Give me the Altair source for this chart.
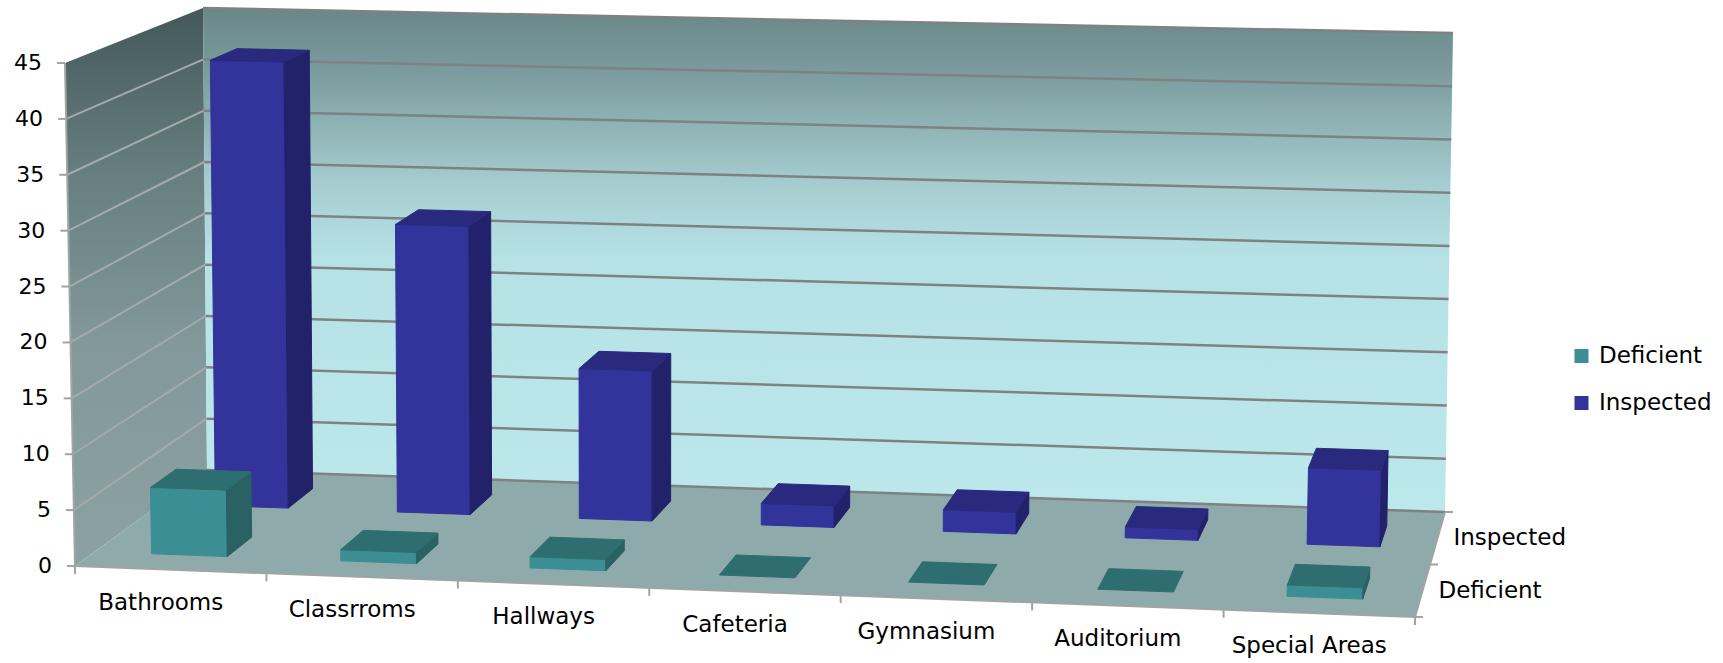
import altair as alt
import pandas as pd

# ---------------- data ----------------
categories = ["Bathrooms", "Classrroms", "Hallways", "Cafeteria", "Gymnasium", "Auditorium", "Special Areas"]
deficient = [6, 1, 1, 0, 0, 0, 1]
inspected = [42, 27, 14, 2, 2, 1, 7]
series_names = ["Deficient", "Inspected"]
y_ticks = [0, 5, 10, 15, 20, 25, 30, 35, 40, 45]
Y_MAX = 45

# ---------------- style ----------------
series_colors = ["#3B8E93", "#32339B"]
face_colors = {
    "Deficient": {"front": "#3B8E93", "top": "#2F6E70", "side": "#2A6163"},
    "Inspected": {"front": "#32339B", "top": "#29297E", "side": "#22226A"},
}
FONT = "DejaVu Sans"
W, H = 1723, 663

# screen corners of the 3-D plot box (front/back, left/right, bottom/top)
C = {
    ("f", "l", "b"): (75, 566), ("f", "r", "b"): (1415, 617),
    ("b", "l", "b"): (207, 470), ("b", "r", "b"): (1445, 512),
    ("f", "l", "t"): (65, 63), ("f", "r", "t"): (1429, 100),
    ("b", "l", "t"): (203, 8), ("b", "r", "t"): (1453, 33),
}
BAR_W = (0.3, 0.7)      # fraction of category slot
BAR_D = (0.15, 0.35)    # fraction of depth inside each series row (row depth 0.5)


def proj(u, w, t):
    out = [0.0, 0.0]
    for d, wd in (("f", 1 - w), ("b", w)):
        for s, ws in (("l", 1 - u), ("r", u)):
            for h, wh in (("b", 1 - t), ("t", t)):
                px, py = C[(d, s, h)]
                out[0] += wd * ws * wh * px
                out[1] += wd * ws * wh * py
    return out


n = len(categories)


def poly_rows(pid, pts, color=None):
    rows = []
    for o, (u, w, t) in enumerate(pts):
        x, y = proj(u, w, t)
        rows.append({"pid": pid, "o": o, "x": x, "y": y, "col": color})
    return rows


# walls
left_wall = pd.DataFrame(poly_rows("lw", [(0, 0, 0), (0, 1, 0), (0, 1, 1), (0, 0, 1)]))
back_wall = pd.DataFrame(poly_rows("bw", [(0, 1, 0), (1, 1, 0), (1, 1, 1), (0, 1, 1)]))
floor = pd.DataFrame(poly_rows("fl", [(0, 0, 0), (1, 0, 0), (1, 1, 0), (0, 1, 0)]))

# bars
bar_frames = {}
for s_idx, (sname, vals) in enumerate(zip(series_names, [deficient, inspected])):
    rows = []
    for i, v in enumerate(vals):
        u0, u1 = (i + BAR_W[0]) / n, (i + BAR_W[1]) / n
        w0, w1 = s_idx * 0.5 + BAR_D[0], s_idx * 0.5 + BAR_D[1]
        t1 = v / Y_MAX
        fc = face_colors[sname]
        if v > 0:
            rows += poly_rows(f"{sname}-{i}-front", [(u0, w0, 0), (u1, w0, 0), (u1, w0, t1), (u0, w0, t1)], fc["front"])
            rows += poly_rows(f"{sname}-{i}-side", [(u1, w0, 0), (u1, w1, 0), (u1, w1, t1), (u1, w0, t1)], fc["side"])
        rows += poly_rows(f"{sname}-{i}-top", [(u0, w0, t1), (u1, w0, t1), (u1, w1, t1), (u0, w1, t1)], fc["top"])
    bar_frames[sname] = pd.DataFrame(rows)

# grid lines
back_grid, left_grid, y_tick_rules, y_labels = [], [], [], []
for v in y_ticks:
    t = v / Y_MAX
    a, b = proj(0, 1, t), proj(1, 1, t)
    back_grid.append({"x": a[0], "y": a[1], "x2": b[0], "y2": b[1]})
    c = proj(0, 0, t)
    left_grid.append({"x": c[0], "y": c[1], "x2": a[0], "y2": a[1]})
    y_tick_rules.append({"x": c[0] - 8, "y": c[1], "x2": c[0], "y2": c[1]})
    y_labels.append({"x": c[0] - 23, "y": c[1], "text": str(v)})
back_grid = pd.DataFrame(back_grid)
left_grid = pd.DataFrame(left_grid[1:-1])

# axis lines
axis_lines = []
p00, p10, p11 = proj(0, 0, 0), proj(1, 0, 0), proj(1, 1, 0)
p0t = proj(0, 0, 1)
axis_lines.append({"x": p00[0], "y": p00[1], "x2": p10[0], "y2": p10[1]})
axis_lines.append({"x": p10[0], "y": p10[1], "x2": p11[0], "y2": p11[1]})
axis_lines.append({"x": p00[0], "y": p00[1], "x2": p0t[0], "y2": p0t[1]})
for k in range(n + 1):
    p = proj(k / n, 0, 0)
    axis_lines.append({"x": p[0], "y": p[1], "x2": p[0], "y2": p[1] + 8})
for w in (0, 0.5, 1):
    p = proj(1, w, 0)
    axis_lines.append({"x": p[0], "y": p[1], "x2": p[0] + 8, "y2": p[1]})
axis_lines += y_tick_rules
axis_lines = pd.DataFrame(axis_lines)

cat_labels = []
for i, c in enumerate(categories):
    p = proj((i + 0.5) / n, 0, 0)
    cat_labels.append({"x": p[0] - 10, "y": p[1] + 33, "text": c})
cat_labels = pd.DataFrame(cat_labels)

depth_labels = []
for s_idx, sname in enumerate(series_names):
    p = proj(1, s_idx * 0.5 + 0.25, 0)
    depth_labels.append({"x": p[0] + 16, "y": p[1], "text": sname})
depth_labels = pd.DataFrame(depth_labels)
y_labels = pd.DataFrame(y_labels)

# ---------------- chart ----------------
X = alt.X("x:Q", scale=alt.Scale(domain=[0, W], nice=False, zero=False), axis=None)
Y = alt.Y("y:Q", scale=alt.Scale(domain=[0, H], nice=False, zero=False, reverse=True), axis=None)
X2 = alt.X2("x2:Q")
Y2 = alt.Y2("y2:Q")


def grad(stops):
    return alt.Gradient(gradient="linear", x1=0, y1=0, x2=0, y2=1,
                        stops=[alt.GradientStop(color=c, offset=o) for o, c in stops])


def wall(df, fill):
    return alt.Chart(df).mark_line(interpolate="linear-closed", fill=fill, strokeWidth=0).encode(
        x=X, y=Y, order="o:Q", detail="pid:N")


lw = wall(left_wall, grad([(0, "#44585A"), (0.3, "#677F80"), (0.6, "#82989A"), (1, "#8CA1A2")]))
bw = wall(back_wall, grad([(0, "#6A8787"), (0.12, "#7A9A9B"), (0.24, "#91B5B7"),
                           (0.36, "#A7CFD2"), (0.5, "#B6E2E6"), (1, "#BCE8EB")]))
fl = wall(floor, "#8FAAAB")

lgrid = alt.Chart(left_grid).mark_rule(color="#A3ABAB", strokeWidth=2).encode(x=X, y=Y, x2=X2, y2=Y2)
bgrid = alt.Chart(back_grid).mark_rule(color="#7E8283", strokeWidth=2.5).encode(x=X, y=Y, x2=X2, y2=Y2)
axes = alt.Chart(axis_lines).mark_rule(color="#A0A4A4", strokeWidth=2).encode(x=X, y=Y, x2=X2, y2=Y2)


def bars(df):
    return alt.Chart(df).mark_line(interpolate="linear-closed", strokeWidth=1).encode(
        x=X, y=Y, order="o:Q", detail="pid:N",
        fill=alt.Fill("col:N", scale=None), stroke=alt.Stroke("col:N", scale=None))


bars_insp = bars(bar_frames["Inspected"])
bars_def = bars(bar_frames["Deficient"])

ylab = alt.Chart(y_labels).mark_text(align="right", baseline="middle", font=FONT, fontSize=22, color="black").encode(
    x=X, y=Y, text="text:N")
clab = alt.Chart(cat_labels).mark_text(align="center", baseline="middle", font=FONT, fontSize=23, color="black").encode(
    x=X, y=Y, text="text:N")
dlab = alt.Chart(depth_labels).mark_text(align="left", baseline="middle", font=FONT, fontSize=23, color="black").encode(
    x=X, y=Y, text="text:N")

legend_df = pd.DataFrame({"series": series_names, "x": [0, 0], "y": [0, 0]})
leg = alt.Chart(legend_df).transform_filter("datum.x > 1").mark_square(size=196, opacity=1).encode(
    x=X, y=Y,
    color=alt.Color("series:N", scale=alt.Scale(domain=series_names, range=series_colors),
                    legend=alt.Legend(title=None, orient="none", legendX=1570, legendY=344.5,
                                      labelFont=FONT, labelFontSize=23, labelColor="black",
                                      symbolType="square", symbolSize=196, symbolStrokeWidth=0,
                                      rowPadding=23, labelOffset=6, padding=0)))

chart = alt.layer(lw, bw, fl, lgrid, bgrid, axes, bars_insp, bars_def, ylab, clab, dlab, leg).properties(
    width=W, height=H, autosize=alt.AutoSizeParams(type="none"), padding=0
).configure_view(strokeWidth=0)

chart.save("out.html", embed_options={"renderer": "svg", "actions": False})
